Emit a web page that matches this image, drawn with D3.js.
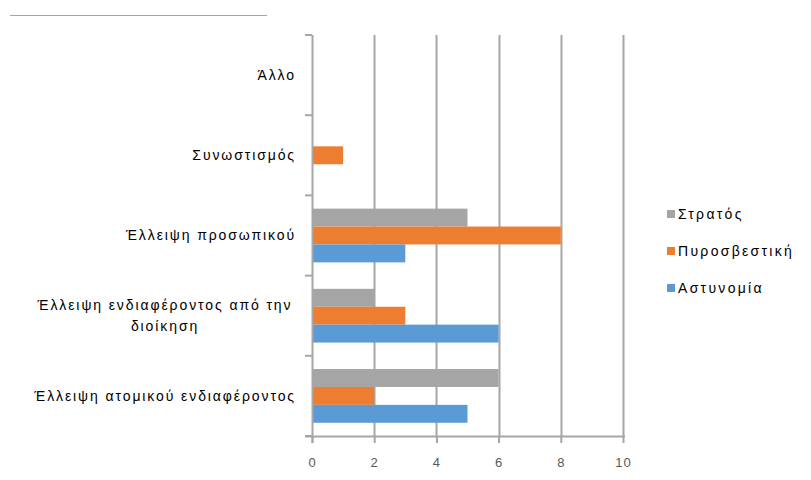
<!DOCTYPE html>
<html>
<head>
<meta charset="utf-8">
<script src="https://cdn.jsdelivr.net/npm/d3@7"></script>
<style>
  html, body { margin: 0; padding: 0; background: #fff; }
  svg { display: block; font-family: "Liberation Sans", Arial, sans-serif; }
</style>
</head>
<body>
<svg id="chart" width="811" height="480"></svg>
<script>
// Categories listed top to bottom
const categories = [
  "Άλλο",
  "Συνωστισμός",
  "Έλλειψη προσωπικού",
  "Έλλειψη ενδιαφέροντος από την διοίκηση",
  "Έλλειψη ατομικού ενδιαφέροντος"
];
// Wrapped label lines for each category
const categoryLines = [
  ["Άλλο"],
  ["Συνωστισμός"],
  ["Έλλειψη προσωπικού"],
  ["Έλλειψη ενδιαφέροντος από την", "διοίκηση"],
  ["Έλλειψη ατομικού ενδιαφέροντος"]
];
const seriesNames = ["Στρατός", "Πυροσβεστική", "Αστυνομία"];
const seriesColors = ["#a5a5a5", "#ed7d31", "#5b9bd5"];
const stratos      = [0, 0, 5, 2, 6];
const pyrosvestiki = [0, 1, 8, 3, 2];
const astynomia    = [0, 0, 3, 6, 5];
const seriesValues = [stratos, pyrosvestiki, astynomia];
const xTicks = [0, 2, 4, 6, 8, 10];

const svg = d3.select("#chart");
const plot = { left: 312, right: 623, top: 35, bottom: 436 };
const gridColor = "#a6a6a6";

// decorative rule above the chart
svg.append("line")
  .attr("x1", 10).attr("x2", 267).attr("y1", 15.5).attr("y2", 15.5)
  .attr("stroke", "#a6a6a6").attr("stroke-width", 1);

const x = d3.scaleLinear().domain([0, 10]).range([plot.left, plot.right]);
const y = d3.scaleBand().domain(categories).range([plot.top, plot.bottom]).paddingInner(0).paddingOuter(0);
const ySub = d3.scaleBand().domain(seriesNames)
  .range([y.bandwidth() * 0.165, y.bandwidth() * 0.835]).padding(0);

// vertical gridlines
svg.append("g").selectAll("line")
  .data(xTicks.filter(d => d > 0))
  .join("line")
  .attr("x1", d => Math.round(x(d)) + 0.5).attr("x2", d => Math.round(x(d)) + 0.5)
  .attr("y1", plot.top).attr("y2", plot.bottom)
  .attr("stroke", gridColor).attr("stroke-width", 2);

// bars
const groups = svg.append("g").selectAll("g")
  .data(categories)
  .join("g")
  .attr("transform", d => `translate(0,${y(d)})`);

groups.selectAll("rect")
  .data((d, i) => seriesNames.map((s, j) => ({ s, j, v: seriesValues[j][i] })))
  .join("rect")
  .attr("x", x(0))
  .attr("y", d => ySub(d.s))
  .attr("width", d => x(d.v) - x(0))
  .attr("height", ySub.bandwidth())
  .attr("fill", (d) => seriesColors[d.j]);

// x axis
const xAxis = d3.axisBottom(x).tickValues(xTicks).tickSize(7).tickPadding(15).tickFormat(d3.format("d"));
const gx = svg.append("g")
  .attr("transform", `translate(0,${plot.bottom})`)
  .call(xAxis);
gx.select(".domain").attr("d", `M${plot.left - 7},0.5H${plot.right + 2}`)
  .attr("stroke", gridColor).attr("stroke-width", 2);
gx.selectAll(".tick line").attr("stroke", gridColor).attr("stroke-width", 2);
gx.selectAll(".tick text").attr("fill", "#595959").attr("font-size", 13)
  .attr("letter-spacing", 1)
  .attr("font-family", "Liberation Sans, Arial, sans-serif");

// y axis with ticks at category boundaries
const gy = svg.append("g");
gy.append("line")
  .attr("x1", plot.left + 0.5).attr("x2", plot.left + 0.5)
  .attr("y1", plot.top).attr("y2", plot.bottom + 7)
  .attr("stroke", gridColor).attr("stroke-width", 2);
gy.selectAll("line.bt")
  .data(categories.map(c => y(c)).concat([plot.bottom]))
  .join("line")
  .attr("class", "bt")
  .attr("x1", plot.left - 7).attr("x2", plot.left)
  .attr("y1", d => d).attr("y2", d => d)
  .attr("stroke", gridColor).attr("stroke-width", 2);

// category labels
const labels = svg.append("g").attr("fill", "#000").attr("font-size", 14).attr("letter-spacing", 1.9);
categories.forEach((c, i) => {
  const lines = categoryLines[i];
  const cy = y(c) + y.bandwidth() / 2;
  const lh = 21;
  const t = labels.append("text").attr("text-anchor", lines.length > 1 ? "middle" : "end");
  lines.forEach((ln, k) => {
    t.append("tspan")
      .attr("x", lines.length > 1 ? 165 : 296)
      .attr("y", cy + (k - (lines.length - 1) / 2) * lh)
      .attr("dy", "0.35em")
      .text(ln);
  });
});

// legend
const legend = svg.append("g").attr("font-size", 14).attr("letter-spacing", 2.3);
const legendRows = legend.selectAll("g")
  .data(seriesNames)
  .join("g")
  .attr("transform", (d, i) => `translate(667,${214 + i * 37})`);
legendRows.append("rect")
  .attr("x", 0).attr("y", -4).attr("width", 8).attr("height", 8)
  .attr("fill", (d, i) => seriesColors[i]);
legendRows.append("text")
  .attr("x", 11).attr("y", 0).attr("dy", "0.35em")
  .attr("fill", "#000")
  .text(d => d);
</script>
</body>
</html>
